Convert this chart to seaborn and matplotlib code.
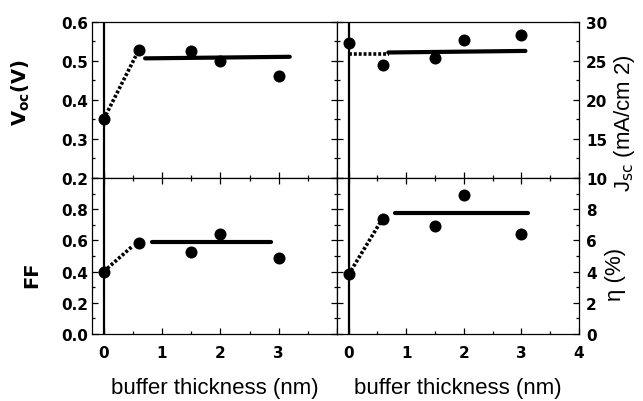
import matplotlib
matplotlib.use("Agg")
import matplotlib.pyplot as plt
import seaborn as sns
from matplotlib.ticker import MultipleLocator, FuncFormatter

# measured device parameters versus buffer layer thickness
thickness = [0.0, 0.6, 1.5, 2.0, 3.0]
voc = [0.35, 0.527, 0.524, 0.50, 0.46]
jsc = [27.3, 24.4, 25.3, 27.7, 28.3]
ff = [0.40, 0.583, 0.523, 0.643, 0.49]
eta = [3.85, 7.37, 6.9, 8.9, 6.4]

# guide lines: rising segment (dotted) and plateau (solid)
voc_rise_x = [0.0, 0.55]
voc_rise_y = [0.35, 0.512]
voc_flat_x = [0.71, 3.19]
voc_flat_y = [0.506, 0.51]

jsc_rise_x = [0.0, 0.7]
jsc_rise_y = [25.9, 25.9]
jsc_flat_x = [0.69, 3.07]
jsc_flat_y = [26.05, 26.25]

ff_rise_x = [0.0, 0.5]
ff_rise_y = [0.40, 0.565]
ff_flat_x = [0.82, 2.87]
ff_flat_y = [0.59, 0.59]

eta_rise_x = [0.0, 0.55]
eta_rise_y = [3.8, 7.15]
eta_flat_x = [0.8, 3.12]
eta_flat_y = [7.75, 7.75]

sns.set_style("ticks")
plt.rcParams["font.family"] = ["DejaVu Sans"]
plt.rcParams["mathtext.fontset"] = "dejavusans"
for key in ("text.color", "axes.labelcolor", "xtick.color", "ytick.color",
            "axes.edgecolor"):
    plt.rcParams[key] = "black"

W, H = 643, 402
fig = plt.figure(figsize=(W / 100, H / 100), dpi=100)


def frac(x0, y0, x1, y1):
    return [x0 / W, 1 - y1 / H, (x1 - x0) / W, (y1 - y0) / H]


ax_voc = fig.add_axes(frac(92, 22.6, 337, 179))
ax_jsc = fig.add_axes(frac(337, 22.6, 579, 179))
ax_ff = fig.add_axes(frac(92, 179, 337, 335))
ax_eta = fig.add_axes(frac(337, 179, 579, 335))

panels = [
    (ax_voc, voc, voc_rise_x, voc_rise_y, voc_flat_x, voc_flat_y),
    (ax_jsc, jsc, jsc_rise_x, jsc_rise_y, jsc_flat_x, jsc_flat_y),
    (ax_ff, ff, ff_rise_x, ff_rise_y, ff_flat_x, ff_flat_y),
    (ax_eta, eta, eta_rise_x, eta_rise_y, eta_flat_x, eta_flat_y),
]

tick_font = dict(family="DejaVu Sans", weight="bold", size=11, color="black")

for ax, vals, rx, ry, fx, fy in panels:
    ax.set_facecolor("white")
    ax.axvline(0, color="black", lw=1.6, zorder=1)
    sns.lineplot(x=rx, y=ry, ax=ax, color="black", lw=2.6,
                 linestyle=(0, (0.8, 0.55)), zorder=3)
    sns.lineplot(x=fx, y=fy, ax=ax, color="black", lw=3.0, zorder=3)
    sns.scatterplot(x=thickness, y=vals, ax=ax, color="black", s=75,
                    edgecolor="black", linewidth=0, zorder=5)
    ax.set_xlim(-0.2, 4.0)
    ax.xaxis.set_major_locator(MultipleLocator(1))
    ax.xaxis.set_minor_locator(MultipleLocator(0.5))
    for s in ax.spines.values():
        s.set_visible(True)
        s.set_linewidth(0.9)
        s.set_color("black")
    ax.tick_params(which="both", direction="in", color="black", width=0.9,
                   left=True, right=True, top=False, bottom=True)
    ax.tick_params(which="major", length=4.5)
    ax.tick_params(which="minor", length=2.5)
    ax.set_xlabel("")
    ax.set_ylabel("")

# top row: no x tick labels, cross ticks on the shared boundary
for ax in (ax_voc, ax_jsc):
    ax.tick_params(axis="x", which="both", labelbottom=False)
for ax in (ax_ff, ax_eta):
    ax.tick_params(axis="x", which="both", top=True, pad=8)

ax_voc.set_ylim(0.2, 0.6)
ax_voc.yaxis.set_major_locator(MultipleLocator(0.1))
ax_voc.yaxis.set_minor_locator(MultipleLocator(0.05))

ax_ff.set_ylim(0.0, 1.0)
ax_ff.yaxis.set_major_locator(MultipleLocator(0.2))
ax_ff.yaxis.set_minor_locator(MultipleLocator(0.1))

ax_jsc.set_ylim(10, 30)
ax_jsc.yaxis.set_major_locator(MultipleLocator(5))
ax_jsc.yaxis.set_minor_locator(MultipleLocator(2.5))

ax_eta.set_ylim(0, 10)
ax_eta.yaxis.set_major_locator(MultipleLocator(2))
ax_eta.yaxis.set_minor_locator(MultipleLocator(1))

for ax in (ax_voc, ax_ff):
    ax.tick_params(axis="y", which="both", labelleft=True, labelright=False, pad=3)
for ax in (ax_jsc, ax_eta):
    ax.tick_params(axis="y", which="both", labelleft=False, labelright=True, pad=5)

ax_voc.yaxis.set_major_formatter(FuncFormatter(lambda v, p: f"{v:.1f}"))
ax_ff.yaxis.set_major_formatter(
    FuncFormatter(lambda v, p: "" if v > 0.95 else f"{v:.1f}"))
ax_jsc.yaxis.set_major_formatter(FuncFormatter(lambda v, p: f"{v:.0f}"))
ax_eta.yaxis.set_major_formatter(
    FuncFormatter(lambda v, p: "" if v > 9.5 else f"{v:.0f}"))
ax_ff.xaxis.set_major_formatter(
    FuncFormatter(lambda v, p: "" if v > 3.5 else f"{v:.0f}"))
ax_eta.xaxis.set_major_formatter(FuncFormatter(lambda v, p: f"{v:.0f}"))

for ax in (ax_voc, ax_ff, ax_jsc, ax_eta):
    for lab in ax.get_yticklabels() + ax.get_xticklabels():
        lab.set(**tick_font)

# axis titles
ax_voc.set_ylabel(r"V$_{\mathbf{oc}}$(V)", fontsize=14, fontweight="bold",
                  color="black")
ax_voc.yaxis.set_label_coords(-0.29, 0.55)
ax_ff.set_ylabel("FF", fontsize=14, fontweight="bold", color="black")
ax_ff.yaxis.set_label_coords(-0.245, 0.385)

label_font = dict(family="Liberation Sans", size=16, color="black")
ax_jsc.yaxis.set_label_position("right")
ax_jsc.set_ylabel(r"J$_{\mathrm{sc}}$ (mA/cm 2)", **label_font)
ax_jsc.yaxis.set_label_coords(1.19, 0.36)
ax_eta.yaxis.set_label_position("right")
ax_eta.set_ylabel("η (%)", **label_font)
ax_eta.yaxis.set_label_coords(1.15, 0.39)

for ax in (ax_voc, ax_ff, ax_jsc, ax_eta):
    ax.yaxis.label.set_verticalalignment("center")

ax_ff.set_xlabel("buffer thickness (nm)", labelpad=12, **label_font)
ax_eta.set_xlabel("buffer thickness (nm)", labelpad=12, **label_font)

fig.savefig("out.png", dpi=100, facecolor="white")
